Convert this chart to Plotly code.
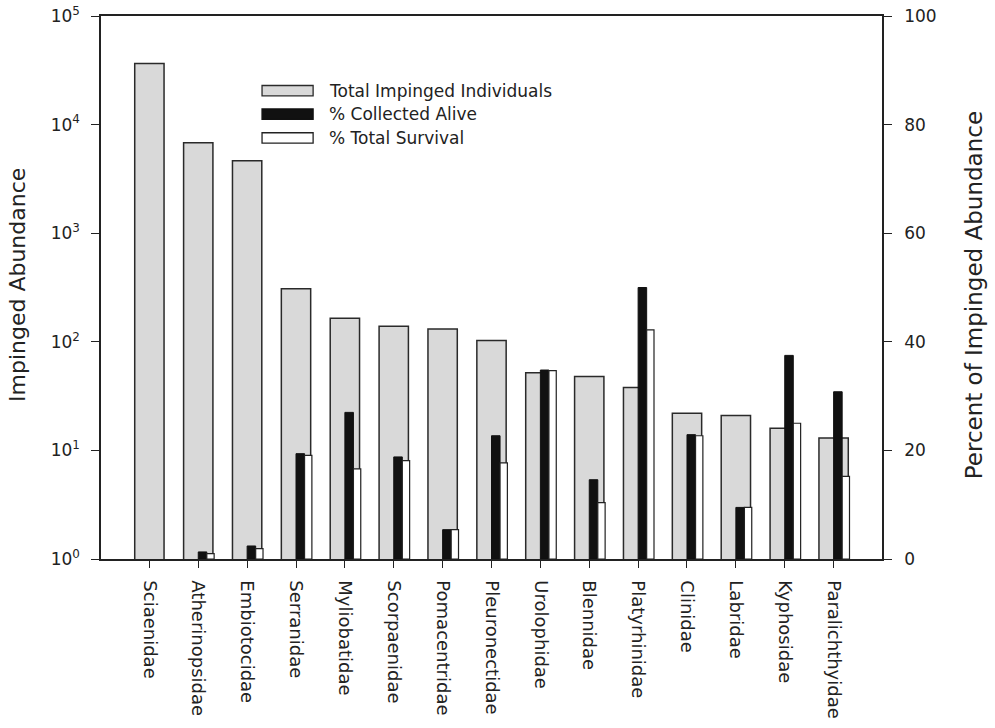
import plotly.graph_objects as go

# Fish families, ordered by total impinged abundance
families = [
    "Sciaenidae", "Atherinopsidae", "Embiotocidae", "Serranidae", "Myliobatidae",
    "Scorpaenidae", "Pomacentridae", "Pleuronectidae", "Urolophidae", "Blennidae",
    "Platyrhinidae", "Clinidae", "Labridae", "Kyphosidae", "Paralichthyidae",
]

# Total impinged individuals (left, log scale)
total_impinged = [36500, 6800, 4650, 308, 165, 139, 131, 103, 52, 48, 38, 22, 21, 16, 13]

# Percent of impinged abundance (right axis); no survival bars for Sciaenidae
pct_collected_alive = [None, 1.3, 2.4, 19.4, 27.0, 18.8, 5.4, 22.7, 34.8, 14.6, 50.0, 22.9, 9.5, 37.5, 30.8]
pct_total_survival = [None, 1.0, 1.9, 19.1, 16.6, 18.1, 5.4, 17.7, 34.7, 10.4, 42.2, 22.7, 9.5, 25.0, 15.2]

# Axis tick values / labels
log_tick_vals = [1, 10, 100, 1000, 10000, 100000]
log_tick_text = ["10<sup>0</sup>", "10<sup>1</sup>", "10<sup>2</sup>",
                 "10<sup>3</sup>", "10<sup>4</sup>", "10<sup>5</sup>"]
pct_tick_vals = [0, 20, 40, 60, 80, 100]

legend_labels = ["Total Impinged Individuals", "% Collected Alive", "% Total Survival"]

FONT = "DejaVu Sans"
INK = "#222222"
GRAY = "#d9d9d9"

fig = go.Figure()

fig.add_bar(
    x=families, y=total_impinged, yaxis="y", name=legend_labels[0],
    width=0.6, offset=-0.3,
    marker=dict(color=GRAY, line=dict(color="#2a2a2a", width=1.5)),
    showlegend=False,
)
fig.add_bar(
    x=families, y=pct_collected_alive, yaxis="y2", name=legend_labels[1],
    width=0.175, offset=0.0,
    marker=dict(color="#111111", line=dict(color="#111111", width=1)),
    showlegend=False,
)
fig.add_bar(
    x=families, y=pct_total_survival, yaxis="y2", name=legend_labels[2],
    width=0.15, offset=0.175,
    marker=dict(color="white", line=dict(color=INK, width=1.2)),
    showlegend=False,
)

# Hand-drawn legend: wide swatches with labels (paper coordinates)
swatch_fill = [GRAY, "#111111", "white"]
swatch_line = ["#2a2a2a", "#111111", INK]
row_y = [0.8625, 0.8193, 0.7755]
shapes = []
annotations = []
for label, fill, edge, yc in zip(legend_labels, swatch_fill, swatch_line, row_y):
    shapes.append(dict(
        type="rect", xref="paper", yref="paper",
        x0=0.2062, x1=0.2716, y0=yc - 0.0095, y1=yc + 0.0095,
        fillcolor=fill, line=dict(color=edge, width=1.3), layer="above",
    ))
    annotations.append(dict(
        text=label, xref="paper", yref="paper", x=0.2895, y=yc,
        xanchor="left", yanchor="middle", showarrow=False,
        font=dict(family=FONT, size=17, color=INK),
    ))

# Axis titles
annotations.append(dict(
    text="Impinged Abundance", xref="paper", yref="paper", x=-0.106, y=0.505,
    xanchor="center", yanchor="middle", textangle=-90, showarrow=False,
    font=dict(family=FONT, size=22, color=INK),
))
annotations.append(dict(
    text="Percent of Impinged Abundance", xref="paper", yref="paper", x=1.118, y=0.486,
    xanchor="center", yanchor="middle", textangle=-90, showarrow=False,
    font=dict(family=FONT, size=23, color=INK),
))

fig.update_layout(
    width=995, height=728,
    margin=dict(l=101, r=113, t=16, b=169),
    paper_bgcolor="white", plot_bgcolor="white",
    barmode="overlay",
    font=dict(family=FONT, color=INK),
    shapes=shapes,
    annotations=annotations,
    xaxis=dict(
        type="category", range=[-0.99, 14.99], automargin=False,
        showline=True, linecolor=INK, linewidth=1.5, mirror=True,
        ticks="outside", ticklen=7, tickwidth=1.2, tickcolor=INK,
        tickangle=90, tickfont=dict(family=FONT, size=18, color=INK),
        ticklabelstandoff=9,
        showgrid=False, zeroline=False,
    ),
    yaxis=dict(
        type="log", range=[0, 5], automargin=False,
        tickvals=log_tick_vals, ticktext=log_tick_text,
        showline=True, linecolor=INK, linewidth=1.5,
        ticks="outside", ticklen=8, tickwidth=1.2, tickcolor=INK,
        tickfont=dict(family=FONT, size=17, color=INK),
        ticklabelstandoff=8,
        showgrid=False, zeroline=False,
    ),
    yaxis2=dict(
        overlaying="y", side="right", anchor="x", automargin=False,
        range=[0, 100], tickvals=pct_tick_vals,
        showline=True, linecolor=INK, linewidth=1.5,
        ticks="outside", ticklen=8, tickwidth=1.2, tickcolor=INK,
        tickfont=dict(family=FONT, size=17, color=INK),
        ticklabelstandoff=9,
        showgrid=False, zeroline=False,
    ),
)

fig.write_html("out.html")
